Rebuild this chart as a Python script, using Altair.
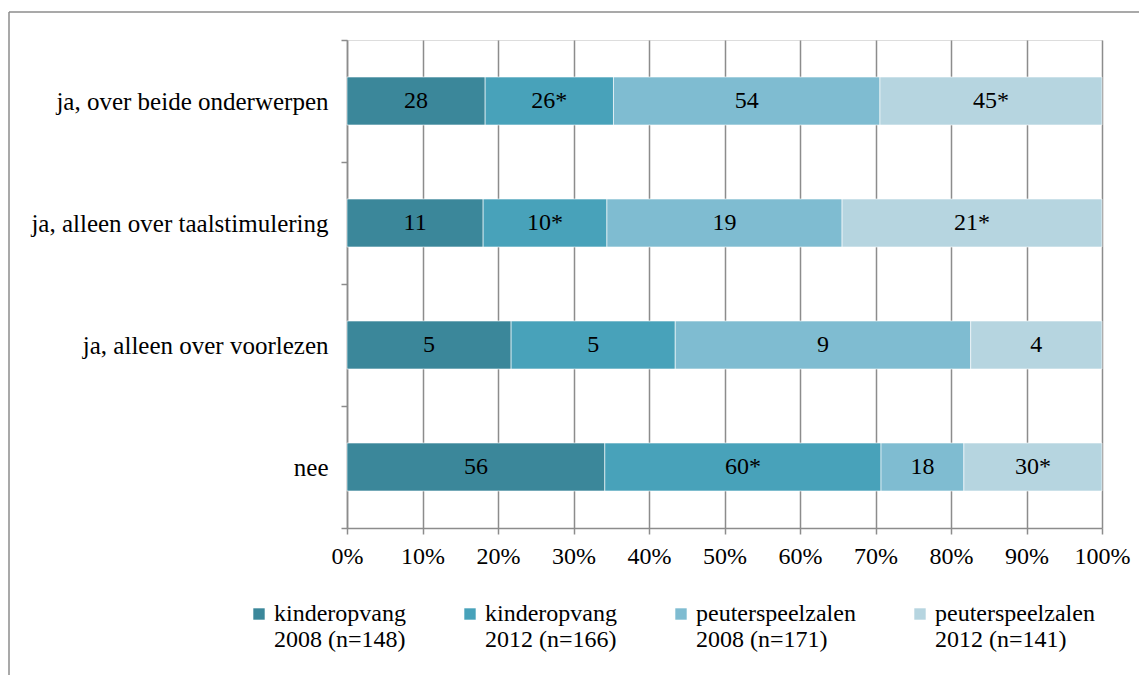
import altair as alt
import pandas as pd

categories = [
    "ja, over beide onderwerpen",
    "ja, alleen over taalstimulering",
    "ja, alleen over voorlezen",
    "nee",
]
series = [
    "kinderopvang\n2008 (n=148)",
    "kinderopvang\n2012 (n=166)",
    "peuterspeelzalen\n2008 (n=171)",
    "peuterspeelzalen\n2012 (n=141)",
]
ko2008 = [28, 11, 5, 56]
ko2012 = [26, 10, 5, 60]
ps2008 = [54, 19, 9, 18]
ps2012 = [45, 21, 4, 30]
lab_ko2008 = ["28", "11", "5", "56"]
lab_ko2012 = ["26*", "10*", "5", "60*"]
lab_ps2008 = ["54", "19", "9", "18"]
lab_ps2012 = ["45*", "21*", "4", "30*"]
colors = ["#3b879a", "#48a2ba", "#7fbcd1", "#b6d5e0"]
x_ticks = [0, 0.1, 0.2, 0.3, 0.4, 0.5, 0.6, 0.7, 0.8, 0.9, 1.0]

rows = []
for si, (vals, labs) in enumerate(zip([ko2008, ko2012, ps2008, ps2012],
                                      [lab_ko2008, lab_ko2012, lab_ps2008, lab_ps2012])):
    for ci, cat in enumerate(categories):
        rows.append({"category": cat, "series": series[si], "order": si,
                     "value": vals[ci], "label": labs[ci]})
df = pd.DataFrame(rows)

FONT = "Liberation Serif"
GRAY = "#8c8c8c"

base = (
    alt.Chart(df)
    .transform_joinaggregate(total="sum(value)", groupby=["category"])
    .transform_window(cum="sum(value)", sort=[{"field": "order"}],
                      groupby=["category"], frame=[None, 0])
    .transform_calculate(
        start="(datum.cum - datum.value) / datum.total",
        end="datum.cum / datum.total",
        mid="(datum.cum - datum.value / 2) / datum.total",
    )
)

yenc = alt.Y(
    "category:N", sort=categories, title=None,
    scale=alt.Scale(paddingInner=0, paddingOuter=0),
    axis=alt.Axis(tickBand="extent", tickSize=6, tickColor=GRAY, tickWidth=1.5,
                  domainColor=GRAY, domainWidth=1.5, labelFont=FONT,
                  labelFontSize=25, labelColor="black", labelPadding=13,
                  labelLimit=500, grid=False),
)

bars = base.mark_bar(stroke="white", strokeWidth=0.6, size=48).encode(
    y=yenc,
    x=alt.X("start:Q", scale=alt.Scale(domain=[0, 1]), title=None,
            axis=alt.Axis(values=x_ticks, format=".0%", grid=True, gridColor=GRAY,
                          gridWidth=1.5, tickSize=6, tickColor=GRAY, tickWidth=1.5,
                          domainColor=GRAY, domainWidth=1.5, labelFont=FONT,
                          labelFontSize=24, labelColor="black", labelPadding=10,
                          labelOverlap=False, labelFlush=False)),
    x2="end:Q",
    color=alt.Color(
        "series:N", sort=series,
        scale=alt.Scale(domain=series, range=colors),
        legend=alt.Legend(
            title=None, orient="none", legendX=-100, legendY=562,
            direction="horizontal", columns=4, symbolType="square",
            symbolSize=130, symbolStrokeWidth=0, labelFont=FONT,
            labelFontSize=24, labelColor="black", labelLimit=400,
            labelOffset=3, columnPadding=52, padding=0,
            labelExpr="split(datum.label, '\\n')",
        ),
    ),
)

texts = base.mark_text(font=FONT, fontSize=24, color="black").encode(
    y=alt.Y("category:N", sort=categories),
    x=alt.X("mid:Q"),
    text="label:N",
)

frame_df = pd.DataFrame({"k": [0]})
frame_left = alt.Chart(frame_df).mark_rule(color=GRAY, strokeWidth=1.5).encode(
    x=alt.value(-338), y=alt.value(-28), y2=alt.value(700)
)
frame_top = alt.Chart(frame_df).mark_rule(color=GRAY, strokeWidth=1.5).encode(
    x=alt.value(-338), x2=alt.value(900), y=alt.value(-28)
)

chart = (
    alt.layer(frame_left, frame_top, bars, texts)
    .properties(
        width=755, height=488,
        autosize=alt.AutoSizeParams(type="none"),
        padding={"left": 339, "top": 32, "right": 37, "bottom": 150},
    )
    .configure_view(stroke=None)
    .configure(background="white")
)

chart.save("out.html", embed_options={"renderer": "svg", "actions": False})
